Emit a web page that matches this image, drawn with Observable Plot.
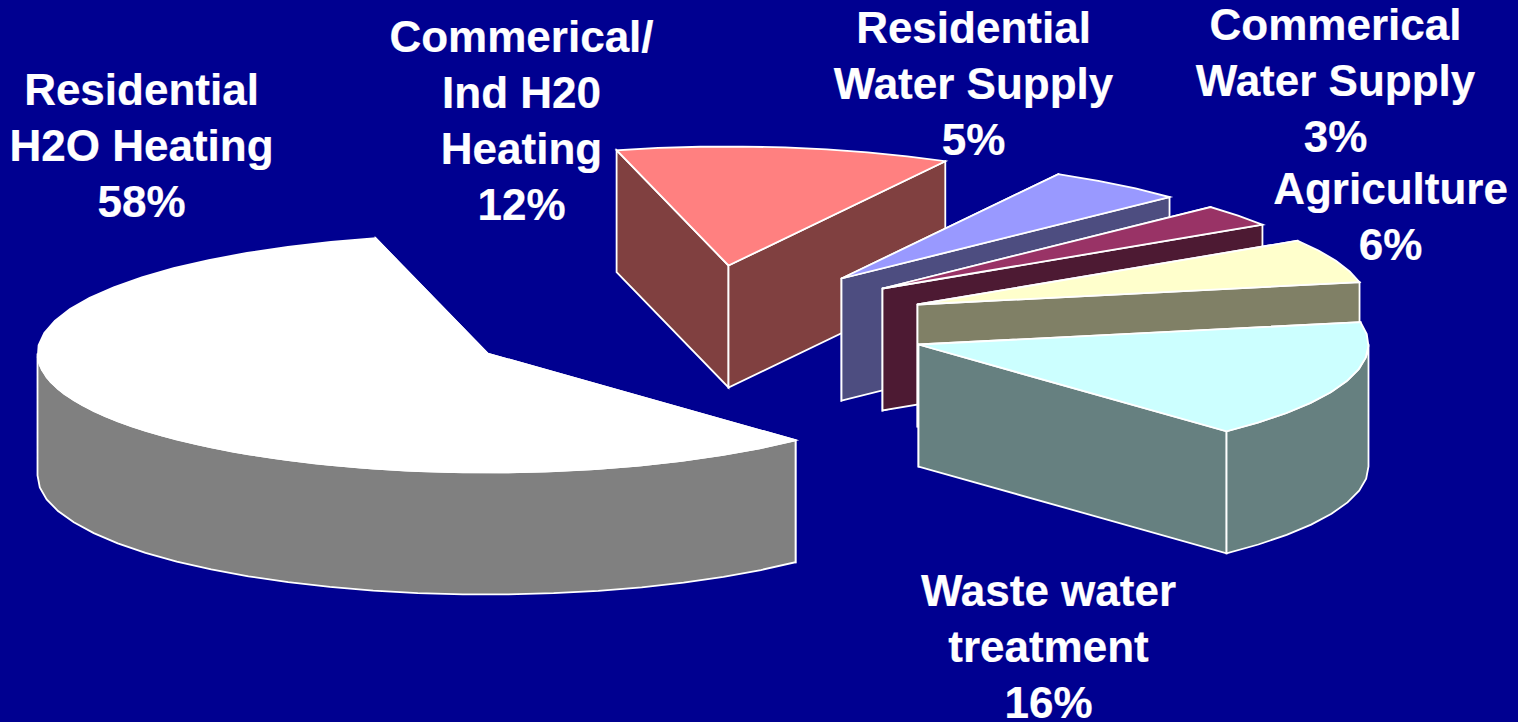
<!DOCTYPE html>
<html>
<head>
<meta charset="utf-8">
<title>Water-related energy use by sector</title>
<script src="https://cdn.jsdelivr.net/npm/d3@7"></script>
<script src="https://cdn.jsdelivr.net/npm/@observablehq/plot@0.6"></script>
<style>
  html, body { margin: 0; padding: 0; background: #000090; overflow: hidden; }
  svg { display: block; }
</style>
</head>
<body>
<div id="chart"></div>
<script>
// Sectors, clockwise around the pie
const sectors = [
  "Commerical/\nInd H20\nHeating",
  "Residential\nWater Supply",
  "Commerical\nWater Supply",
  "Agriculture",
  "Waste water\ntreatment",
  "Residential\nH2O Heating"
];
const shares = [12, 5, 3, 6, 16, 58];

// Face colours per sector
const topColors = ["#ff8080", "#9999ff", "#993366", "#ffffcc", "#ccffff", "#ffffff"];
const wallColors = ["#804040", "#4d4d80", "#4d1a33", "#808066", "#668080", "#808080"];

// Where each exploded slice's tip sits in the drawing
const tipX = [728, 841, 882, 917, 918, 487];
const tipY = [265, 278, 288, 304, 344, 353];

// Label placement: centre and first baseline
const labelX = [521, 973, 1335, 1390, 1048, 141];
const labelBase = [43, 34, 31, 195, 597, 96];

// Pie projection
const W = 1518, H = 722;
const rx = 450, ry = 119, depth = 122, firstAngle = -14.4, arcStep = 6;
const background = "#000090";
const fontSize = 44;

const rim = (i, deg) => {
  const t = deg * Math.PI / 180;
  return [tipX[i] + rx * Math.sin(t), tipY[i] - ry * Math.cos(t)];
};
const arc = (i, a0, a1) => {
  const n = Math.max(1, Math.ceil((a1 - a0) / arcStep));
  return d3.range(n + 1).map(k => rim(i, a0 + (a1 - a0) * k / n));
};
const drop = (pts) => pts.map(([x, y]) => [x, y + depth]);
const closed = (pts) => [...pts, pts[0]];

const face = (pts, fill) => Plot.line(closed(pts), {
  x: d => d[0],
  y: d => d[1],
  fill,
  stroke: "#ffffff",
  strokeWidth: 1.8,
  strokeLinejoin: "miter",
  strokeMiterlimit: 6,
  curve: "linear"
});

// Painted back to front: each slice's walls first, then its top
let angle = firstAngle;
const faces = shares.flatMap((share, i) => {
  const a0 = angle, a1 = angle + share * 3.6;
  angle = a1;
  const tip = [tipX[i], tipY[i]];
  const out = [];
  for (const a of [a0, a1]) {
    const edge = [tip, rim(i, a)];
    out.push(face([...edge, ...drop(edge).reverse()], wallColors[i]));
  }
  const from = Math.max(a0, 90), to = Math.min(a1, 270);
  if (to > from) {
    const band = arc(i, from, to);
    out.push(face([...band, ...drop(band).reverse()], wallColors[i]));
  }
  out.push(face([tip, ...arc(i, a0, a1)], topColors[i]));
  return out;
});

const labels = sectors.map((name, i) => ({
  text: `${name}\n${shares[i]}%`,
  x: labelX[i],
  y: labelBase[i] - 0.71 * fontSize
}));

const chart = Plot.plot({
  width: W,
  height: H,
  margin: 0,
  x: {domain: [0, W], axis: null},
  y: {domain: [H, 0], axis: null},
  style: {background, display: "block"},
  marks: [
    ...faces,
    Plot.text(labels, {
      x: "x",
      y: "y",
      text: "text",
      fill: "#ffffff",
      stroke: "#ffffff",
      strokeWidth: 0.2,
      fontFamily: "'Liberation Sans', Arial, sans-serif",
      fontWeight: "bold",
      fontSize,
      lineHeight: 1.27,
      lineAnchor: "top",
      textAnchor: "middle"
    })
  ]
});
document.getElementById("chart").append(chart);
</script>
</body>
</html>
